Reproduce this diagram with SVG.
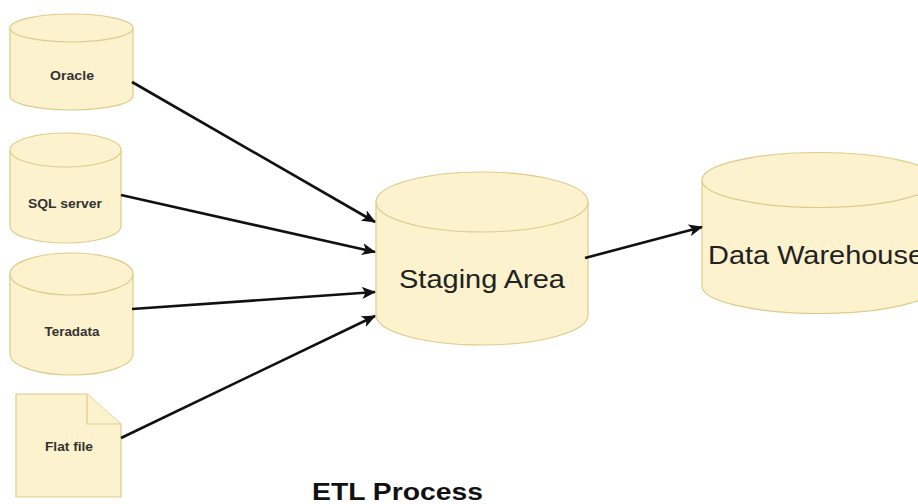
<svg xmlns="http://www.w3.org/2000/svg" width="918" height="504" viewBox="0 0 918 504">
<defs>
<style>
.shape{fill:#fcf2cd;stroke:#decb8c;stroke-width:1.2}
.edge{stroke:#111;stroke-width:2.6;fill:none}
.small{font-family:"Liberation Sans",Arial,sans-serif;font-size:12px;font-weight:bold;fill:#333;text-anchor:middle}
.big{font-family:"Liberation Sans",Arial,sans-serif;font-size:25px;fill:#222}
.title{font-family:"Liberation Sans",Arial,sans-serif;font-size:23px;font-weight:bold;fill:#111}
</style>
<marker id="arr" viewBox="0 0 14 12" refX="13" refY="6" markerWidth="14" markerHeight="12" markerUnits="userSpaceOnUse" orient="auto">
<path d="M0,0 L14,6 L0,12 L3.5,6 Z" fill="#111"/>
</marker>
</defs>
<rect width="918" height="504" fill="#fff"/>
<g id="oracle">
<path class="shape" d="M10,28 A61.5,14 0 0 1 133,28 L133,96 A61.5,14 0 0 1 10,96 Z"/>
<path class="shape" d="M10,28 A61.5,14 0 0 0 133,28"/>
<text class="small" x="72" y="80" textLength="44" lengthAdjust="spacingAndGlyphs">Oracle</text>
</g>
<g id="sqlserver">
<path class="shape" d="M10,150 A55.5,17 0 0 1 121,150 L121,226 A55.5,17 0 0 1 10,226 Z"/>
<path class="shape" d="M10,150 A55.5,17 0 0 0 121,150"/>
<text class="small" x="65" y="208" textLength="74" lengthAdjust="spacingAndGlyphs">SQL server</text>
</g>
<g id="teradata">
<path class="shape" d="M10,274 A61.5,21 0 0 1 133,274 L133,354 A61.5,21 0 0 1 10,354 Z"/>
<path class="shape" d="M10,274 A61.5,21 0 0 0 133,274"/>
<text class="small" x="72" y="336" textLength="55" lengthAdjust="spacingAndGlyphs">Teradata</text>
</g>
<g id="flatfile">
<path class="shape" d="M16,394 L87,394 L121,424 L121,497 L16,497 Z"/>
<path class="shape" d="M87,394 L87,424 L121,424"/>
<text class="small" x="69" y="451" textLength="48" lengthAdjust="spacingAndGlyphs">Flat file</text>
</g>
<g id="staging">
<path class="shape" d="M376,202 A106,30 0 0 1 588,202 L588,315 A106,30 0 0 1 376,315 Z"/>
<path class="shape" d="M376,202 A106,30 0 0 0 588,202"/>
<text class="big" x="482" y="288" text-anchor="middle" textLength="166" lengthAdjust="spacingAndGlyphs">Staging Area</text>
</g>
<g id="warehouse">
<path class="shape" d="M702,180 A117,27.5 0 0 1 936,180 L936,286 A117,27.5 0 0 1 702,286 Z"/>
<path class="shape" d="M702,180 A117,27.5 0 0 0 936,180"/>
<text class="big" x="708" y="264" textLength="216" lengthAdjust="spacingAndGlyphs">Data Warehouse</text>
</g>
<g id="connectors">
<line class="edge" x1="132" y1="82" x2="375" y2="222" marker-end="url(#arr)"/>
<line class="edge" x1="121" y1="195" x2="375" y2="252" marker-end="url(#arr)"/>
<line class="edge" x1="132" y1="309" x2="375" y2="292" marker-end="url(#arr)"/>
<line class="edge" x1="121" y1="438" x2="375" y2="316" marker-end="url(#arr)"/>
<line class="edge" x1="585" y1="258" x2="702" y2="227" marker-end="url(#arr)"/>
</g>
<text class="title" x="312" y="500" textLength="171" lengthAdjust="spacingAndGlyphs">ETL Process</text>
</svg>
